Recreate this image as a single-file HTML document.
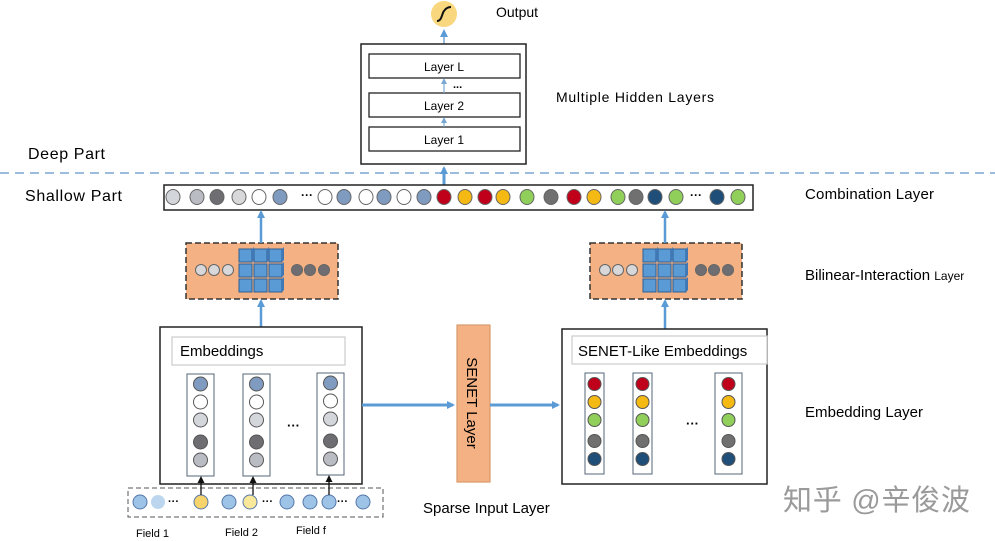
<!DOCTYPE html>
<html><head><meta charset="utf-8"><style>
html,body{margin:0;padding:0;background:#fff;}
svg{display:block;font-family:"Liberation Sans","Noto Sans CJK SC",sans-serif;}
</style></head><body>
<svg width="995" height="541" viewBox="0 0 995 541" xmlns="http://www.w3.org/2000/svg">
<defs>
<marker id="ah" markerWidth="8" markerHeight="8" refX="6" refY="4" orient="auto" markerUnits="userSpaceOnUse"><path d="M0,0 L8,4 L0,8 z" fill="#5b9bd5"/></marker>
<marker id="as" markerWidth="6" markerHeight="6" refX="4" refY="3" orient="auto" markerUnits="userSpaceOnUse"><path d="M0,0 L6,3 L0,6 z" fill="#7aa6d2"/></marker>
<marker id="ak" markerWidth="7" markerHeight="7" refX="5" refY="3.5" orient="auto" markerUnits="userSpaceOnUse"><path d="M0,0 L7,3.5 L0,7 z" fill="#111"/></marker>
<g id="cubes">
<g fill="#5b9bd5" stroke="#2e5f96" stroke-width="1">
<rect x="0" y="0" width="13" height="13"/><rect x="15" y="0" width="13" height="13"/><rect x="30" y="0" width="13" height="13"/>
<rect x="0" y="15" width="13" height="13"/><rect x="15" y="15" width="13" height="13"/><rect x="30" y="15" width="13" height="13"/>
<rect x="0" y="30" width="13" height="13"/><rect x="15" y="30" width="13" height="13"/><rect x="30" y="30" width="13" height="13"/>
</g>
<g fill="#3f78b5"><path d="M13,0 l2,-2 v13 l-2,2z"/><path d="M28,0 l2,-2 v13 l-2,2z"/><path d="M43,0 l2,-2 v13 l-2,2z"/><path d="M43,15 l2,-2 v13 l-2,2z"/><path d="M43,30 l2,-2 v13 l-2,2z"/></g>
</g>
</defs>

<circle cx="444" cy="14" r="13" fill="#f9d77e"/>
<path d="M437,21 C442,21 442,13 444,11 C446,8 448,7 451,7" stroke="#111" stroke-width="2" fill="none"/>
<text x="496" y="17" font-size="14">Output</text>
<line x1="444" y1="44" x2="444" y2="31" stroke="#7aa6d2" stroke-width="1.5" marker-end="url(#ah)"/>

<rect x="361" y="44" width="165" height="120" fill="#fff" stroke="#222" stroke-width="1.5"/>
<rect x="369" y="54" width="151" height="24" fill="#fff" stroke="#222" stroke-width="1.3"/>
<text x="444" y="71" font-size="12" text-anchor="middle">Layer L</text>
<text x="453" y="88" font-size="11" font-weight="bold">...</text>
<rect x="369" y="93" width="151" height="24" fill="#fff" stroke="#222" stroke-width="1.3"/>
<text x="444" y="110" font-size="12" text-anchor="middle">Layer 2</text>
<rect x="369" y="127" width="151" height="24" fill="#fff" stroke="#222" stroke-width="1.3"/>
<text x="444" y="144" font-size="12" text-anchor="middle">Layer 1</text>
<line x1="444" y1="93" x2="444" y2="80" stroke="#7aa6d2" stroke-width="1.2" marker-end="url(#as)"/>
<line x1="444" y1="127" x2="444" y2="119" stroke="#7aa6d2" stroke-width="1.2" marker-end="url(#as)"/>
<text x="556" y="102" font-size="14" textLength="158">Multiple Hidden Layers</text>

<line x1="0" y1="173" x2="995" y2="173" stroke="#7aa6d2" stroke-width="1.5" stroke-dasharray="9,6"/>
<text x="28" y="159" font-size="16" textLength="77">Deep Part</text>
<text x="25" y="201" font-size="16" textLength="97">Shallow Part</text>
<line x1="444" y1="185" x2="444" y2="168" stroke="#5b9bd5" stroke-width="3" marker-end="url(#ah)"/>

<rect x="164" y="185" width="589" height="25" fill="#fff" stroke="#222" stroke-width="1.5"/>
<g stroke="#666" stroke-width="1">
<ellipse cx="173" cy="197" rx="7" ry="7.5" fill="#d3d6da"/>
<ellipse cx="197" cy="197" rx="7" ry="7.5" fill="#b9bdc3"/>
<ellipse cx="217" cy="197" rx="7" ry="7.5" fill="#6e6e72"/>
<ellipse cx="239" cy="197" rx="7" ry="7.5" fill="#d8d8da"/>
<ellipse cx="259" cy="197" rx="7" ry="7.5" fill="#fff"/>
<ellipse cx="280" cy="197" rx="7" ry="7.5" fill="#7f9bbf"/>
<ellipse cx="325" cy="197" rx="7" ry="7.5" fill="#fff"/>
<ellipse cx="344" cy="197" rx="7" ry="7.5" fill="#7f9bbf"/>
<ellipse cx="366" cy="197" rx="7" ry="7.5" fill="#fff"/>
<ellipse cx="384" cy="197" rx="7" ry="7.5" fill="#7f9bbf"/>
<ellipse cx="404" cy="197" rx="7" ry="7.5" fill="#fff"/>
<ellipse cx="424" cy="197" rx="7" ry="7.5" fill="#7f9bbf"/>
<ellipse cx="444" cy="197" rx="7" ry="7.5" fill="#c0001a"/>
<ellipse cx="465" cy="197" rx="7" ry="7.5" fill="#f5b914"/>
<ellipse cx="485" cy="197" rx="7" ry="7.5" fill="#c0001a"/>
<ellipse cx="503" cy="197" rx="7" ry="7.5" fill="#f5b914"/>
<ellipse cx="527" cy="197" rx="7" ry="7.5" fill="#8fcf5a"/>
<ellipse cx="551" cy="197" rx="7" ry="7.5" fill="#707070"/>
<ellipse cx="574" cy="197" rx="7" ry="7.5" fill="#c0001a"/>
<ellipse cx="594" cy="197" rx="7" ry="7.5" fill="#f5b914"/>
<ellipse cx="618" cy="197" rx="7" ry="7.5" fill="#8fcf5a"/>
<ellipse cx="636" cy="197" rx="7" ry="7.5" fill="#707070"/>
<ellipse cx="655" cy="197" rx="7" ry="7.5" fill="#1f4e79"/>
<ellipse cx="676" cy="197" rx="7" ry="7.5" fill="#8fcf5a"/>
<ellipse cx="717" cy="197" rx="7" ry="7.5" fill="#1f4e79"/>
<ellipse cx="738" cy="197" rx="7" ry="7.5" fill="#8fcf5a"/>
</g>
<text x="301" y="199" font-size="12" font-weight="bold">···</text>
<text x="690" y="199" font-size="12" font-weight="bold">···</text>
<text x="805" y="199" font-size="15" textLength="129">Combination Layer</text>

<g id="bil">
<rect x="186" y="243" width="152" height="56" fill="#f4b183" stroke="#333" stroke-width="1.5" stroke-dasharray="6,3"/>
<g stroke="#666"><circle cx="201" cy="270" r="5.5" fill="#d8d8da"/><circle cx="214" cy="270" r="5.5" fill="#d8d8da"/><circle cx="228" cy="270" r="5.5" fill="#d8d8da"/>
<circle cx="297" cy="270" r="5.5" fill="#6e6e72"/><circle cx="310" cy="270" r="5.5" fill="#6e6e72"/><circle cx="324" cy="270" r="5.5" fill="#6e6e72"/></g>
<use href="#cubes" x="239" y="249"/>
</g>
<use href="#bil" x="404" y="0"/>
<text x="805" y="280" font-size="15">Bilinear-Interaction <tspan font-size="12">Layer</tspan></text>
<line x1="261" y1="243" x2="261" y2="212" stroke="#5b9bd5" stroke-width="2.5" marker-end="url(#ah)"/>
<line x1="665" y1="243" x2="665" y2="212" stroke="#5b9bd5" stroke-width="2.5" marker-end="url(#ah)"/>
<line x1="261" y1="327" x2="261" y2="301" stroke="#5b9bd5" stroke-width="2.5" marker-end="url(#ah)"/>
<line x1="665" y1="329" x2="665" y2="301" stroke="#5b9bd5" stroke-width="2.5" marker-end="url(#ah)"/>

<rect x="160" y="327" width="202" height="157" fill="#fff" stroke="#222" stroke-width="1.5"/>
<rect x="172" y="337" width="173" height="28" fill="#fff" stroke="#ccc" stroke-width="1.2"/>
<text x="180" y="356" font-size="15">Embeddings</text>
<g id="ecol">
<rect x="187" y="374" width="27" height="102" fill="#fff" stroke="#556677" stroke-width="1"/>
<g stroke="#555"><circle cx="200.5" cy="384" r="7" fill="#7f9bbf"/><circle cx="200.5" cy="402" r="7" fill="#fff"/><circle cx="200.5" cy="420" r="7" fill="#d3d6da"/><circle cx="200.5" cy="442" r="7" fill="#6e6e72"/><circle cx="200.5" cy="460" r="7" fill="#b9bdc3"/></g>
</g>
<use href="#ecol" x="56" y="0"/>
<use href="#ecol" x="130" y="-1"/>
<text x="287" y="430" font-size="13" font-weight="bold">···</text>

<rect x="128" y="488" width="255" height="29" fill="#fff" stroke="#555" stroke-width="1" stroke-dasharray="5,3"/>
<g stroke="#5577aa" stroke-width="1">
<circle cx="140" cy="502" r="7" fill="#9dc3e6"/>
<circle cx="158" cy="502" r="7" fill="#bcd6ef" stroke="none"/>
<circle cx="201" cy="502" r="7" fill="#f6d36b"/>
<circle cx="229" cy="502" r="7" fill="#9dc3e6"/>
<circle cx="250" cy="502" r="7" fill="#f9e79a"/>
<circle cx="287" cy="502" r="7" fill="#9dc3e6"/>
<circle cx="310" cy="502" r="7" fill="#9dc3e6"/>
<circle cx="329" cy="502" r="7" fill="#9dc3e6"/>
<circle cx="363" cy="502" r="7" fill="#9dc3e6"/>
</g>
<text x="168" y="505" font-size="11" font-weight="bold">···</text>
<text x="262" y="505" font-size="11" font-weight="bold">···</text>
<text x="337" y="505" font-size="11" font-weight="bold">···</text>
<line x1="201" y1="495" x2="201" y2="478" stroke="#111" stroke-width="1.3" marker-end="url(#ak)"/>
<line x1="253" y1="495" x2="253" y2="478" stroke="#111" stroke-width="1.3" marker-end="url(#ak)"/>
<line x1="329" y1="495" x2="329" y2="477" stroke="#111" stroke-width="1.3" marker-end="url(#ak)"/>
<text x="136" y="537" font-size="11">Field 1</text>
<text x="225" y="536" font-size="11">Field 2</text>
<text x="296" y="534" font-size="11">Field f</text>

<rect x="457" y="325" width="33" height="157" fill="#f4b183" stroke="#d99a6c" stroke-width="1.2"/>
<text transform="translate(467,403) rotate(90)" font-size="15" text-anchor="middle">SENET Layer</text>
<line x1="362" y1="405" x2="453" y2="405" stroke="#5b9bd5" stroke-width="3" marker-end="url(#ah)"/>
<line x1="490" y1="405" x2="558" y2="405" stroke="#5b9bd5" stroke-width="3" marker-end="url(#ah)"/>
<text x="423" y="513" font-size="15">Sparse Input Layer</text>

<rect x="562" y="329" width="205" height="155" fill="#fff" stroke="#222" stroke-width="1.5"/>
<rect x="572" y="336" width="195" height="28" fill="#fff" stroke="#ccc" stroke-width="1.2"/>
<text x="578" y="356" font-size="15">SENET-Like Embeddings</text>
<g id="scol">
<rect x="585" y="373" width="19" height="101" fill="#fff" stroke="#556677" stroke-width="1"/>
<g stroke="#555"><circle cx="594.5" cy="384" r="6.5" fill="#c0001a"/><circle cx="594.5" cy="402" r="6.5" fill="#f5b914"/><circle cx="594.5" cy="420" r="6.5" fill="#8fcf5a"/><circle cx="594.5" cy="441" r="6.5" fill="#707070"/><circle cx="594.5" cy="459" r="6.5" fill="#1f4e79"/></g>
</g>
<use href="#scol" x="48" y="0"/>
<g>
<rect x="715" y="373" width="27" height="101" fill="#fff" stroke="#556677" stroke-width="1"/>
<g stroke="#555"><circle cx="728.5" cy="384" r="6.5" fill="#c0001a"/><circle cx="728.5" cy="402" r="6.5" fill="#f5b914"/><circle cx="728.5" cy="420" r="6.5" fill="#8fcf5a"/><circle cx="728.5" cy="441" r="6.5" fill="#707070"/><circle cx="728.5" cy="459" r="6.5" fill="#1f4e79"/></g>
</g>
<text x="686" y="428" font-size="13" font-weight="bold">···</text>
<text x="805" y="417" font-size="15" textLength="118">Embedding Layer</text>

<text x="783" y="510" font-size="29" fill="#9a9a9a" textLength="187">知乎 @辛俊波</text>
</svg>
</body></html>
